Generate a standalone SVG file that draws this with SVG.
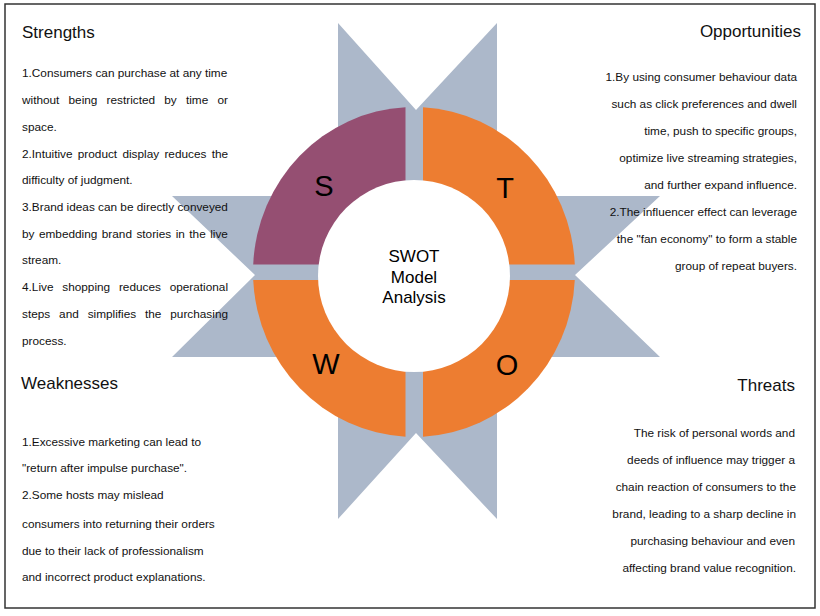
<svg xmlns="http://www.w3.org/2000/svg" width="820" height="616" viewBox="0 0 820 616">
<style>
.t{font-family:"Liberation Sans",Arial,sans-serif;fill:#111;}
.h{font-size:17px;}
.b{font-size:11.8px;}
.r{text-anchor:end;}
.L{font-family:"Liberation Sans",Arial,sans-serif;font-size:29px;fill:#000;text-anchor:middle;}
.c{font-family:"Liberation Sans",Arial,sans-serif;font-size:17px;fill:#000;text-anchor:middle;}
.star{fill:#ACB8CA;}
.org{fill:#ED7D31;}
.pur{fill:#954F72;}
</style>
<rect x="0" y="0" width="820" height="616" fill="#fff"/>
<rect x="5" y="4" width="810" height="604" fill="none" stroke="#333" stroke-width="1.5"/>
<g id="star">
<polygon class="star" points="338,23 416,110 497,23 497,272 338,272"/>
<polygon class="star" points="338,519 416,433 497,519 497,272 338,272"/>
<polygon class="star" points="172,196 255,275 172,357 416,357 416,196"/>
<polygon class="star" points="660,196 575,275 660,357 416,357 416,196"/>
</g>
<g id="ring">
<path id="S-quad" class="pur" d="M405.5,264.5 L253.2,264.5 A161,165 0 0 1 405.5,107.2 Z"/>
<path id="T-quad" class="org" d="M423,264.5 L423,107.3 A161,165 0 0 1 574.8,264.5 Z"/>
<path id="O-quad" class="org" d="M423,280 L574.8,280 A161,165 0 0 1 423,436.7 Z"/>
<path id="W-quad" class="org" d="M405.5,280 L405.5,436.7 A161,165 0 0 1 253.2,280 Z"/>
<circle cx="414" cy="276" r="96" fill="#fff"/>
<text class="L" x="324" y="196">S</text>
<text class="L" x="505" y="197.5">T</text>
<text class="L" x="326" y="374">W</text>
<text class="L" x="507" y="374.5">O</text>
</g>
<g id="center">
<text class="c" x="414" y="261.5">SWOT</text>
<text class="c" x="414" y="282.5">Model</text>
<text class="c" x="414" y="303">Analysis</text>
</g>
<g id="strengths">
<text class="t h" x="22" y="38">Strengths</text>
<text class="t b" x="22" y="77">1.Consumers can purchase at any time</text>
<text class="t b" x="22" y="104" word-spacing="5.9">without being restricted by time or</text>
<text class="t b" x="22" y="131">space.</text>
<text class="t b" x="22" y="158" word-spacing="2">2.Intuitive product display reduces the</text>
<text class="t b" x="22" y="184">difficulty of judgment.</text>
<text class="t b" x="22" y="211">3.Brand ideas can be directly conveyed</text>
<text class="t b" x="22" y="238" word-spacing="1.2">by embedding brand stories in the live</text>
<text class="t b" x="22" y="264">stream.</text>
<text class="t b" x="22" y="291" word-spacing="5.5">4.Live shopping reduces operational</text>
<text class="t b" x="22" y="318" word-spacing="5.6">steps and simplifies the purchasing</text>
<text class="t b" x="22" y="345">process.</text>
</g>
<g id="opportunities">
<text class="t h r" x="801" y="37">Opportunities</text>
<text class="t b r" x="797" y="81">1.By using consumer behaviour data</text>
<text class="t b r" x="797" y="108">such as click preferences and dwell</text>
<text class="t b r" x="797" y="135">time, push to specific groups,</text>
<text class="t b r" x="797" y="162">optimize live streaming strategies,</text>
<text class="t b r" x="797" y="189">and further expand influence.</text>
<text class="t b r" x="797" y="216">2.The influencer effect can leverage</text>
<text class="t b r" x="797" y="243">the "fan economy" to form a stable</text>
<text class="t b r" x="797" y="270">group of repeat buyers.</text>
</g>
<g id="weaknesses">
<text class="t h" x="21" y="389">Weaknesses</text>
<text class="t b" x="22" y="446">1.Excessive marketing can lead to</text>
<text class="t b" x="22" y="472">"return after impulse purchase".</text>
<text class="t b" x="22" y="499">2.Some hosts may mislead</text>
<text class="t b" x="22" y="528">consumers into returning their orders</text>
<text class="t b" x="22" y="555">due to their lack of professionalism</text>
<text class="t b" x="22" y="581">and incorrect product explanations.</text>
</g>
<g id="threats">
<text class="t h r" x="795" y="391">Threats</text>
<text class="t b r" x="795" y="437">The risk of personal words and</text>
<text class="t b r" x="795" y="464">deeds of influence may trigger a</text>
<text class="t b r" x="796" y="491">chain reaction of consumers to the</text>
<text class="t b r" x="796" y="518">brand, leading to a sharp decline in</text>
<text class="t b r" x="795" y="545">purchasing behaviour and even</text>
<text class="t b r" x="796" y="572">affecting brand value recognition.</text>
</g>
<g id="connectors"></g>
</svg>
